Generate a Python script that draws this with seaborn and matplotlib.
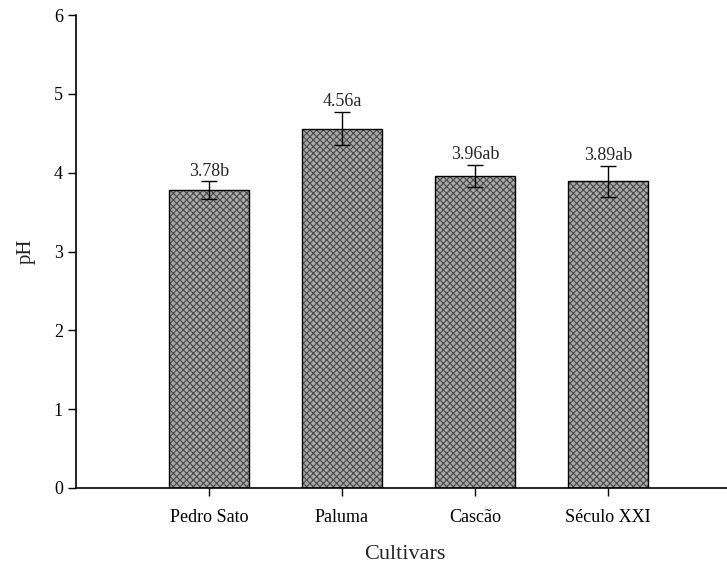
import numpy as np
import matplotlib
matplotlib.use("Agg")
import matplotlib.pyplot as plt
import pandas as pd
import seaborn as sns

# Chart data
cultivars = ["Pedro Sato", "Paluma", "Cascão", "Século XXI"]
ph_values = [3.78, 4.56, 3.96, 3.89]
ph_errors = [0.11, 0.21, 0.14, 0.20]
letters = ["b", "a", "ab", "ab"]

df = pd.DataFrame({"cultivar": cultivars, "ph": ph_values})

sns.set_style("ticks")
plt.rcParams["font.family"] = ["Liberation Serif", "DejaVu Serif"]
plt.rcParams["hatch.linewidth"] = 0.8

fig = plt.figure(figsize=(7.27, 5.66), dpi=100)
ax = fig.add_axes([76 / 727, 1 - 488 / 566, 1 - 76 / 727 + 0.01, (488 - 15) / 566])

# Textured fill first, then a plain black outline on top
sns.barplot(data=df, x="cultivar", y="ph", color="#a8a8a8", width=0.6,
            errorbar=None, ax=ax, saturation=1)
for patch in ax.patches:
    patch.set_hatch("xxxxx")
    patch.set_edgecolor("#4a4a4a")
    patch.set_linewidth(0)
sns.barplot(data=df, x="cultivar", y="ph", fill=False, width=0.6,
            errorbar=None, ax=ax, edgecolor="black", linewidth=1.0)

xpos = np.arange(len(cultivars))
ax.errorbar(xpos, ph_values, yerr=ph_errors, fmt="none", ecolor="black",
            elinewidth=1.0, capsize=5.5, capthick=1.0)

# Value + letter labels above the error bars
for x, v, e, l in zip(xpos, ph_values, ph_errors, letters):
    ax.text(x, v + e + 0.02, f"{v:.2f}{l}", ha="center", va="bottom", fontsize=13)

ax.set_xlim(-1.0, 3.95)
ax.set_ylim(0, 6)
ax.set_yticks(range(0, 7))
ax.set_xlabel("Cultivars", fontsize=16, labelpad=14)
ax.set_ylabel("pH", fontsize=15, labelpad=13)
ax.tick_params(axis="both", labelsize=13, direction="out", length=6, width=1.0, colors="black")
ax.tick_params(axis="x", pad=9)
for side in ["top", "right"]:
    ax.spines[side].set_visible(False)
for side in ["left", "bottom"]:
    ax.spines[side].set_linewidth(1.2)
    ax.spines[side].set_color("black")

fig.savefig("out.png", dpi=100)
